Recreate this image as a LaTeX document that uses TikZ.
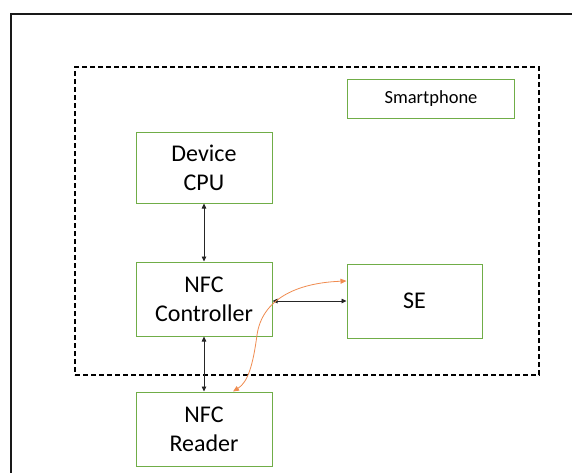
\documentclass[tikz,border=0pt]{standalone}
\usepackage{fontspec}
\setmainfont{Carlito}
\usetikzlibrary{arrows.meta}
\definecolor{boxgreen}{RGB}{112,173,71}
\definecolor{curveorange}{RGB}{240,140,80}
\begin{document}
\begin{tikzpicture}[x=1pt,y=-1pt,
  gbox/.style={draw=boxgreen, line width=1pt, minimum width=136pt, minimum height=73pt,
    align=center, inner sep=0pt, font=\fontsize{24}{29}\selectfont},
  biarrow/.style={black!85, line width=0.8pt,
    {Triangle[length=5pt,width=4.5pt]}-{Triangle[length=5pt,width=4.5pt]}},
  orangearrow/.style={curveorange, line width=0.8pt,
    {Triangle[length=6pt,width=5pt]}-{Triangle[length=6pt,width=5pt]}}
]
\clip (0,0) rectangle (572,472);
\fill[white] (0,0) rectangle (572,472);
% outer frame
\draw[line width=2pt, black!90] (10.5,600) -- (10.5,13.5) -- (700,13.5);
% smartphone boundary
\node[draw, dashed, dash pattern=on 5pt off 3pt, line width=1.1pt, minimum width=464pt,
  minimum height=308pt, inner sep=0pt] (phone) at (307,221) {};
\node[draw=boxgreen, line width=1pt, minimum width=167pt, minimum height=39pt, inner sep=0pt,
  font=\fontsize{18.5}{22}\selectfont] (label) at (431,98.5) {Smartphone};
% components
\node[gbox, minimum height=71pt] (cpu) at (204,167.5) {Device\\CPU};
\node[gbox, minimum height=74pt] (ctrl) at (204,299) {NFC\\Controller};
\node[gbox, minimum width=135pt, minimum height=74pt] (se) at (414.5,301) {SE};
\node[gbox, minimum height=74pt] (reader) at (204,429) {NFC\\Reader};
% connectors
\draw[biarrow] (cpu.south) -- (ctrl.north);
\draw[biarrow] (ctrl.south) -- (reader.north);
\draw[biarrow] (ctrl.east |- se.west) -- (se.west);
\coordinate (oa) at ([yshift=20pt]se.west);
\coordinate (ob) at ([xshift=29pt]reader.north);
\coordinate (om) at (257,335);
\draw[orangearrow] (ob) .. controls (248,382) and (253,365) .. (om)
  .. controls (262,300) and (295,283) .. (oa);
\end{tikzpicture}
\end{document}
